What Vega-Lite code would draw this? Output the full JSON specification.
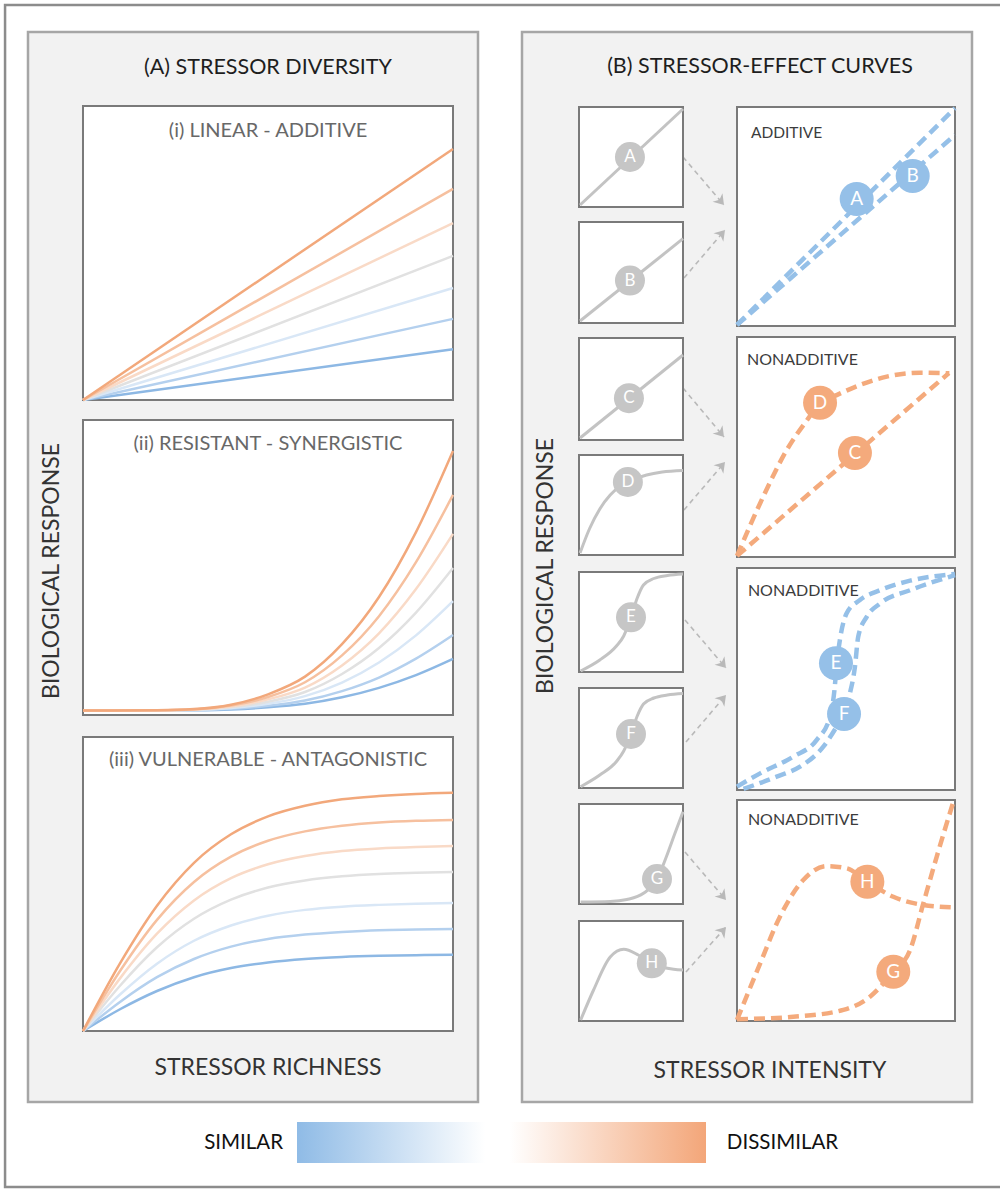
{
"$schema": "https://vega.github.io/schema/vega-lite/v6.json",
"width": 1000,
"height": 1191,
"autosize": {"type": "none"},
"padding": 0,
"background": "white",
"config": {"view": {"stroke": null}, "axis": {"disable": true}, "font": "Lato", "text": {"font": "Lato"}},
"datasets": {
"diversity": [
{"panel":"i","level":1,"x":0,"y":0},{"panel":"i","level":1,"x":1,"y":0.173},
{"panel":"i","level":2,"x":0,"y":0},{"panel":"i","level":2,"x":1,"y":0.276},
{"panel":"i","level":3,"x":0,"y":0},{"panel":"i","level":3,"x":1,"y":0.381},
{"panel":"i","level":4,"x":0,"y":0},{"panel":"i","level":4,"x":1,"y":0.49},
{"panel":"i","level":5,"x":0,"y":0},{"panel":"i","level":5,"x":1,"y":0.602},
{"panel":"i","level":6,"x":0,"y":0},{"panel":"i","level":6,"x":1,"y":0.718},
{"panel":"i","level":7,"x":0,"y":0},{"panel":"i","level":7,"x":1,"y":0.854},
{"panel":"ii","level":1,"x":0,"y":0.015},{"panel":"ii","level":1,"x":0.2,"y":0.015},{"panel":"ii","level":1,"x":0.3,"y":0.016},{"panel":"ii","level":1,"x":0.4,"y":0.019},{"panel":"ii","level":1,"x":0.5,"y":0.026},{"panel":"ii","level":1,"x":0.6,"y":0.038},{"panel":"ii","level":1,"x":0.7,"y":0.06},{"panel":"ii","level":1,"x":0.8,"y":0.092},{"panel":"ii","level":1,"x":0.9,"y":0.135},{"panel":"ii","level":1,"x":1,"y":0.19},
{"panel":"ii","level":2,"x":0,"y":0.015},{"panel":"ii","level":2,"x":0.2,"y":0.015},{"panel":"ii","level":2,"x":0.3,"y":0.017},{"panel":"ii","level":2,"x":0.4,"y":0.021},{"panel":"ii","level":2,"x":0.5,"y":0.031},{"panel":"ii","level":2,"x":0.6,"y":0.049},{"panel":"ii","level":2,"x":0.7,"y":0.081},{"panel":"ii","level":2,"x":0.8,"y":0.127},{"panel":"ii","level":2,"x":0.9,"y":0.191},{"panel":"ii","level":2,"x":1,"y":0.271},
{"panel":"ii","level":3,"x":0,"y":0.015},{"panel":"ii","level":3,"x":0.2,"y":0.015},{"panel":"ii","level":3,"x":0.3,"y":0.017},{"panel":"ii","level":3,"x":0.4,"y":0.024},{"panel":"ii","level":3,"x":0.5,"y":0.038},{"panel":"ii","level":3,"x":0.6,"y":0.064},{"panel":"ii","level":3,"x":0.7,"y":0.11},{"panel":"ii","level":3,"x":0.8,"y":0.178},{"panel":"ii","level":3,"x":0.9,"y":0.27},{"panel":"ii","level":3,"x":1,"y":0.386},
{"panel":"ii","level":4,"x":0,"y":0.015},{"panel":"ii","level":4,"x":0.2,"y":0.016},{"panel":"ii","level":4,"x":0.3,"y":0.018},{"panel":"ii","level":4,"x":0.4,"y":0.026},{"panel":"ii","level":4,"x":0.5,"y":0.045},{"panel":"ii","level":4,"x":0.6,"y":0.078},{"panel":"ii","level":4,"x":0.7,"y":0.139},{"panel":"ii","level":4,"x":0.8,"y":0.227},{"panel":"ii","level":4,"x":0.9,"y":0.347},{"panel":"ii","level":4,"x":1,"y":0.498},
{"panel":"ii","level":5,"x":0,"y":0.015},{"panel":"ii","level":5,"x":0.2,"y":0.016},{"panel":"ii","level":5,"x":0.3,"y":0.019},{"panel":"ii","level":5,"x":0.4,"y":0.029},{"panel":"ii","level":5,"x":0.5,"y":0.053},{"panel":"ii","level":5,"x":0.6,"y":0.093},{"panel":"ii","level":5,"x":0.7,"y":0.168},{"panel":"ii","level":5,"x":0.8,"y":0.277},{"panel":"ii","level":5,"x":0.9,"y":0.427},{"panel":"ii","level":5,"x":1,"y":0.614},
{"panel":"ii","level":6,"x":0,"y":0.015},{"panel":"ii","level":6,"x":0.2,"y":0.016},{"panel":"ii","level":6,"x":0.3,"y":0.019},{"panel":"ii","level":6,"x":0.4,"y":0.032},{"panel":"ii","level":6,"x":0.5,"y":0.061},{"panel":"ii","level":6,"x":0.6,"y":0.111},{"panel":"ii","level":6,"x":0.7,"y":0.202},{"panel":"ii","level":6,"x":0.8,"y":0.335},{"panel":"ii","level":6,"x":0.9,"y":0.518},{"panel":"ii","level":6,"x":1,"y":0.746},
{"panel":"ii","level":7,"x":0,"y":0.015},{"panel":"ii","level":7,"x":0.2,"y":0.016},{"panel":"ii","level":7,"x":0.3,"y":0.02},{"panel":"ii","level":7,"x":0.4,"y":0.035},{"panel":"ii","level":7,"x":0.5,"y":0.07},{"panel":"ii","level":7,"x":0.6,"y":0.13},{"panel":"ii","level":7,"x":0.7,"y":0.24},{"panel":"ii","level":7,"x":0.8,"y":0.4},{"panel":"ii","level":7,"x":0.9,"y":0.62},{"panel":"ii","level":7,"x":1,"y":0.895},
{"panel":"iii","level":1,"x":0,"y":0},{"panel":"iii","level":1,"x":0.1,"y":0.074},{"panel":"iii","level":1,"x":0.2,"y":0.136},{"panel":"iii","level":1,"x":0.3,"y":0.183},{"panel":"iii","level":1,"x":0.4,"y":0.214},{"panel":"iii","level":1,"x":0.5,"y":0.233},{"panel":"iii","level":1,"x":0.6,"y":0.245},{"panel":"iii","level":1,"x":0.7,"y":0.252},{"panel":"iii","level":1,"x":0.8,"y":0.256},{"panel":"iii","level":1,"x":0.9,"y":0.258},{"panel":"iii","level":1,"x":1,"y":0.259},
{"panel":"iii","level":2,"x":0,"y":0},{"panel":"iii","level":2,"x":0.1,"y":0.099},{"panel":"iii","level":2,"x":0.2,"y":0.183},{"panel":"iii","level":2,"x":0.3,"y":0.245},{"panel":"iii","level":2,"x":0.4,"y":0.287},{"panel":"iii","level":2,"x":0.5,"y":0.313},{"panel":"iii","level":2,"x":0.6,"y":0.328},{"panel":"iii","level":2,"x":0.7,"y":0.337},{"panel":"iii","level":2,"x":0.8,"y":0.343},{"panel":"iii","level":2,"x":0.9,"y":0.345},{"panel":"iii","level":2,"x":1,"y":0.347},
{"panel":"iii","level":3,"x":0,"y":0},{"panel":"iii","level":3,"x":0.1,"y":0.124},{"panel":"iii","level":3,"x":0.2,"y":0.229},{"panel":"iii","level":3,"x":0.3,"y":0.307},{"panel":"iii","level":3,"x":0.4,"y":0.359},{"panel":"iii","level":3,"x":0.5,"y":0.392},{"panel":"iii","level":3,"x":0.6,"y":0.412},{"panel":"iii","level":3,"x":0.7,"y":0.423},{"panel":"iii","level":3,"x":0.8,"y":0.429},{"panel":"iii","level":3,"x":0.9,"y":0.433},{"panel":"iii","level":3,"x":1,"y":0.435},
{"panel":"iii","level":4,"x":0,"y":0},{"panel":"iii","level":4,"x":0.1,"y":0.154},{"panel":"iii","level":4,"x":0.2,"y":0.285},{"panel":"iii","level":4,"x":0.3,"y":0.382},{"panel":"iii","level":4,"x":0.4,"y":0.447},{"panel":"iii","level":4,"x":0.5,"y":0.488},{"panel":"iii","level":4,"x":0.6,"y":0.512},{"panel":"iii","level":4,"x":0.7,"y":0.526},{"panel":"iii","level":4,"x":0.8,"y":0.534},{"panel":"iii","level":4,"x":0.9,"y":0.538},{"panel":"iii","level":4,"x":1,"y":0.541},
{"panel":"iii","level":5,"x":0,"y":0},{"panel":"iii","level":5,"x":0.1,"y":0.179},{"panel":"iii","level":5,"x":0.2,"y":0.331},{"panel":"iii","level":5,"x":0.3,"y":0.444},{"panel":"iii","level":5,"x":0.4,"y":0.52},{"panel":"iii","level":5,"x":0.5,"y":0.567},{"panel":"iii","level":5,"x":0.6,"y":0.595},{"panel":"iii","level":5,"x":0.7,"y":0.612},{"panel":"iii","level":5,"x":0.8,"y":0.621},{"panel":"iii","level":5,"x":0.9,"y":0.626},{"panel":"iii","level":5,"x":1,"y":0.629},
{"panel":"iii","level":6,"x":0,"y":0},{"panel":"iii","level":6,"x":0.1,"y":0.204},{"panel":"iii","level":6,"x":0.2,"y":0.378},{"panel":"iii","level":6,"x":0.3,"y":0.507},{"panel":"iii","level":6,"x":0.4,"y":0.593},{"panel":"iii","level":6,"x":0.5,"y":0.647},{"panel":"iii","level":6,"x":0.6,"y":0.679},{"panel":"iii","level":6,"x":0.7,"y":0.698},{"panel":"iii","level":6,"x":0.8,"y":0.709},{"panel":"iii","level":6,"x":0.9,"y":0.715},{"panel":"iii","level":6,"x":1,"y":0.718},
{"panel":"iii","level":7,"x":0,"y":0},{"panel":"iii","level":7,"x":0.1,"y":0.23},{"panel":"iii","level":7,"x":0.2,"y":0.426},{"panel":"iii","level":7,"x":0.3,"y":0.572},{"panel":"iii","level":7,"x":0.4,"y":0.669},{"panel":"iii","level":7,"x":0.5,"y":0.73},{"panel":"iii","level":7,"x":0.6,"y":0.766},{"panel":"iii","level":7,"x":0.7,"y":0.788},{"panel":"iii","level":7,"x":0.8,"y":0.799},{"panel":"iii","level":7,"x":0.9,"y":0.806},{"panel":"iii","level":7,"x":1,"y":0.81}
],
"smallCurves": [
{"stressor":"A","x":0.01,"y":0.02},{"stressor":"A","x":1,"y":0.98},
{"stressor":"B","x":0.01,"y":0.02},{"stressor":"B","x":1,"y":0.835},
{"stressor":"C","x":0.01,"y":0.02},{"stressor":"C","x":1,"y":0.833},
{"stressor":"D","x":0.01,"y":0.02},{"stressor":"D","x":0.1,"y":0.26},{"stressor":"D","x":0.2,"y":0.46},{"stressor":"D","x":0.3,"y":0.6},{"stressor":"D","x":0.4,"y":0.69},{"stressor":"D","x":0.5,"y":0.745},{"stressor":"D","x":0.65,"y":0.8},{"stressor":"D","x":0.8,"y":0.83},{"stressor":"D","x":1,"y":0.845},
{"stressor":"E","x":0.016,"y":0.01},{"stressor":"E","x":0.2,"y":0.12},{"stressor":"E","x":0.36,"y":0.26},{"stressor":"E","x":0.43,"y":0.36},{"stressor":"E","x":0.5,"y":0.547},{"stressor":"E","x":0.56,"y":0.74},{"stressor":"E","x":0.62,"y":0.87},{"stressor":"E","x":0.72,"y":0.935},{"stressor":"E","x":0.85,"y":0.965},{"stressor":"E","x":1,"y":0.98},
{"stressor":"F","x":0.016,"y":0.013},{"stressor":"F","x":0.2,"y":0.13},{"stressor":"F","x":0.36,"y":0.265},{"stressor":"F","x":0.43,"y":0.37},{"stressor":"F","x":0.5,"y":0.54},{"stressor":"F","x":0.56,"y":0.72},{"stressor":"F","x":0.62,"y":0.84},{"stressor":"F","x":0.72,"y":0.9},{"stressor":"F","x":0.85,"y":0.93},{"stressor":"F","x":1,"y":0.945},
{"stressor":"G","x":0.016,"y":0.02},{"stressor":"G","x":0.3,"y":0.025},{"stressor":"G","x":0.46,"y":0.045},{"stressor":"G","x":0.62,"y":0.107},{"stressor":"G","x":0.75,"y":0.247},{"stressor":"G","x":0.84,"y":0.473},{"stressor":"G","x":0.92,"y":0.7},{"stressor":"G","x":1,"y":0.923},
{"stressor":"H","x":0.016,"y":0.01},{"stressor":"H","x":0.14,"y":0.31},{"stressor":"H","x":0.3,"y":0.64},{"stressor":"H","x":0.43,"y":0.717},{"stressor":"H","x":0.57,"y":0.66},{"stressor":"H","x":0.7,"y":0.577},{"stressor":"H","x":0.91,"y":0.517},{"stressor":"H","x":1,"y":0.51}
],
"bigCurves": [
{"stressor":"A","x":0,"y":0.005},{"stressor":"A","x":1,"y":0.995},
{"stressor":"B","x":0,"y":0.005},{"stressor":"B","x":1,"y":0.872},
{"stressor":"C","x":0,"y":0.005},{"stressor":"C","x":0.972,"y":0.836},
{"stressor":"D","x":0,"y":0.005},{"stressor":"D","x":0.12,"y":0.274},{"stressor":"D","x":0.228,"y":0.486},{"stressor":"D","x":0.327,"y":0.63},{"stressor":"D","x":0.381,"y":0.701},{"stressor":"D","x":0.457,"y":0.736},{"stressor":"D","x":0.564,"y":0.782},{"stressor":"D","x":0.687,"y":0.82},{"stressor":"D","x":0.839,"y":0.838},{"stressor":"D","x":0.974,"y":0.835},
{"stressor":"E","x":0,"y":0.015},{"stressor":"E","x":0.106,"y":0.075},{"stressor":"E","x":0.258,"y":0.15},{"stressor":"E","x":0.365,"y":0.225},{"stressor":"E","x":0.427,"y":0.33},{"stressor":"E","x":0.447,"y":0.45},{"stressor":"E","x":0.458,"y":0.571},{"stressor":"E","x":0.472,"y":0.676},{"stressor":"E","x":0.503,"y":0.796},{"stressor":"E","x":0.564,"y":0.856},{"stressor":"E","x":0.656,"y":0.9},{"stressor":"E","x":0.794,"y":0.943},{"stressor":"E","x":1,"y":0.973},
{"stressor":"F","x":0.03,"y":0.005},{"stressor":"F","x":0.182,"y":0.06},{"stressor":"F","x":0.289,"y":0.105},{"stressor":"F","x":0.396,"y":0.195},{"stressor":"F","x":0.457,"y":0.285},{"stressor":"F","x":0.491,"y":0.342},{"stressor":"F","x":0.518,"y":0.435},{"stressor":"F","x":0.541,"y":0.555},{"stressor":"F","x":0.556,"y":0.69},{"stressor":"F","x":0.595,"y":0.78},{"stressor":"F","x":0.656,"y":0.84},{"stressor":"F","x":0.794,"y":0.9},{"stressor":"F","x":1,"y":0.968},
{"stressor":"G","x":0,"y":0.008},{"stressor":"G","x":0.258,"y":0.019},{"stressor":"G","x":0.488,"y":0.05},{"stressor":"G","x":0.61,"y":0.11},{"stressor":"G","x":0.717,"y":0.223},{"stressor":"G","x":0.794,"y":0.321},{"stressor":"G","x":0.855,"y":0.533},{"stressor":"G","x":0.916,"y":0.743},{"stressor":"G","x":0.995,"y":1},
{"stressor":"H","x":0,"y":0.005},{"stressor":"H","x":0.106,"y":0.26},{"stressor":"H","x":0.197,"y":0.472},{"stressor":"H","x":0.304,"y":0.638},{"stressor":"H","x":0.411,"y":0.701},{"stressor":"H","x":0.503,"y":0.691},{"stressor":"H","x":0.598,"y":0.63},{"stressor":"H","x":0.717,"y":0.562},{"stressor":"H","x":0.855,"y":0.525},{"stressor":"H","x":1,"y":0.514}
],
"markers": [
{"stressor":"A","scope":"small","x":0.49,"y":0.5},
{"stressor":"B","scope":"small","x":0.49,"y":0.42},
{"stressor":"C","scope":"small","x":0.48,"y":0.41},
{"stressor":"D","scope":"small","x":0.47,"y":0.73},
{"stressor":"E","scope":"small","x":0.5,"y":0.547},
{"stressor":"F","scope":"small","x":0.5,"y":0.54},
{"stressor":"G","scope":"small","x":0.75,"y":0.25},
{"stressor":"H","scope":"small","x":0.7,"y":0.577},
{"stressor":"A","scope":"big","x":0.549,"y":0.58},
{"stressor":"B","scope":"big","x":0.806,"y":0.685},
{"stressor":"C","scope":"big","x":0.541,"y":0.473},
{"stressor":"D","scope":"big","x":0.381,"y":0.701},
{"stressor":"E","scope":"big","x":0.454,"y":0.571},
{"stressor":"F","scope":"big","x":0.491,"y":0.342},
{"stressor":"G","scope":"big","x":0.717,"y":0.223},
{"stressor":"H","scope":"big","x":0.598,"y":0.63}
],
"arrows": [
{"stressor":"A","direction":"down","x":0.3578,"y":0.8832,"x2":0.4489,"y2":0.8383},
{"stressor":"B","direction":"up","x":0.36,"y":0.7701,"x2":0.4511,"y2":0.815},
{"stressor":"C","direction":"down","x":0.3578,"y":0.6673,"x2":0.4489,"y2":0.6215},
{"stressor":"D","direction":"up","x":0.36,"y":0.5533,"x2":0.4511,"y2":0.5981},
{"stressor":"E","direction":"down","x":0.3622,"y":0.4505,"x2":0.4533,"y2":0.4056},
{"stressor":"F","direction":"up","x":0.3644,"y":0.3364,"x2":0.4533,"y2":0.3804},
{"stressor":"G","direction":"down","x":0.3622,"y":0.2336,"x2":0.4533,"y2":0.1888},
{"stressor":"H","direction":"up","x":0.3644,"y":0.1215,"x2":0.4533,"y2":0.1636}
]
},
"resolve": {"scale": {"x": "independent", "y": "independent"}},
"layer": [
{"data":{"values":[{}]},"mark":{"type":"rect","fill":"white","stroke":"#8c8c8c","strokeWidth":2.5},"encoding":{"x":{"datum":0,"type":"quantitative","scale":{"domain":[-0.005051,0.994949],"nice":false,"zero":false},"axis":null},"x2":{"datum":1},"y":{"datum":0,"type":"quantitative","scale":{"domain":[-0.003384,1.00423],"nice":false,"zero":false},"axis":null},"y2":{"datum":1}}},
{"layer":[
 {"data":{"values":[{}]},"mark":{"type":"rect","fill":"#f2f2f2","stroke":"#a6a6a6","strokeWidth":2.5},"encoding":{"x":{"datum":0,"type":"quantitative","scale":{"domain":[-0.062222,2.16],"nice":false,"zero":false},"axis":null},"x2":{"datum":1},"y":{"datum":0,"type":"quantitative","scale":{"domain":[-0.083178,1.029907],"nice":false,"zero":false},"axis":null},"y2":{"datum":1}}},
 {"data":{"values":[{}]},"mark":{"type":"text","text":"(A) STRESSOR DIVERSITY","fontSize":21.5,"color":"#1e1e1e","align":"center","baseline":"middle"},"encoding":{"x":{"datum":0.5333,"type":"quantitative"},"y":{"datum":0.9664,"type":"quantitative"}}},
 {"data":{"values":[{}]},"mark":{"type":"text","text":"BIOLOGICAL RESPONSE","fontSize":23,"color":"#333333","angle":270,"align":"center","baseline":"middle"},"encoding":{"x":{"datum":0.0533,"type":"quantitative"},"y":{"datum":0.4963,"type":"quantitative"}}},
 {"data":{"values":[{}]},"mark":{"type":"text","text":"STRESSOR RICHNESS","fontSize":23,"color":"#333333","align":"center","baseline":"middle"},"encoding":{"x":{"datum":0.5333,"type":"quantitative"},"y":{"datum":0.0318,"type":"quantitative"}}}
]},
{"layer":[
 {"data":{"values":[{}]},"mark":{"type":"rect","fill":"#f2f2f2","stroke":"#a6a6a6","strokeWidth":2.5},"encoding":{"x":{"datum":0,"type":"quantitative","scale":{"domain":[-1.16,1.062222],"nice":false,"zero":false},"axis":null},"x2":{"datum":1},"y":{"datum":0,"type":"quantitative","scale":{"domain":[-0.083178,1.029907],"nice":false,"zero":false},"axis":null},"y2":{"datum":1}}},
 {"data":{"values":[{}]},"mark":{"type":"text","text":"(B) STRESSOR-EFFECT CURVES","fontSize":21.5,"color":"#1e1e1e","align":"center","baseline":"middle"},"encoding":{"x":{"datum":0.5289,"type":"quantitative"},"y":{"datum":0.9673,"type":"quantitative"}}},
 {"data":{"values":[{}]},"mark":{"type":"text","text":"BIOLOGICAL RESPONSE","fontSize":23,"color":"#333333","angle":270,"align":"center","baseline":"middle"},"encoding":{"x":{"datum":0.0533,"type":"quantitative"},"y":{"datum":0.501,"type":"quantitative"}}},
 {"data":{"values":[{}]},"mark":{"type":"text","text":"STRESSOR INTENSITY","fontSize":23,"color":"#333333","align":"center","baseline":"middle"},"encoding":{"x":{"datum":0.551,"type":"quantitative"},"y":{"datum":0.029,"type":"quantitative"}}},
 {"data":{"name":"arrows"},"mark":{"type":"rule","color":"#b9b9b9","strokeWidth":1.6,"strokeDash":[5,4]},"encoding":{"x":{"field":"x","type":"quantitative"},"y":{"field":"y","type":"quantitative"},"x2":{"field":"x2"},"y2":{"field":"y2"}}},
 {"data":{"name":"arrows"},"transform":[{"filter":"datum.direction == 'down'"}],"mark":{"type":"point","shape":"M -1 -0.65 L 0 0 L -1 0.65 L -0.7 0 Z","filled":true,"size":400,"angle":49.5,"color":"#b9b9b9","opacity":1},"encoding":{"x":{"field":"x2","type":"quantitative"},"y":{"field":"y2","type":"quantitative"}}},
 {"data":{"name":"arrows"},"transform":[{"filter":"datum.direction == 'up'"}],"mark":{"type":"point","shape":"M -1 -0.65 L 0 0 L -1 0.65 L -0.7 0 Z","filled":true,"size":400,"angle":-49,"color":"#b9b9b9","opacity":1},"encoding":{"x":{"field":"x2","type":"quantitative"},"y":{"field":"y2","type":"quantitative"}}}
]},
{"layer":[
 {"data":{"values":[{}]},"mark":{"type":"rect","fill":"white","stroke":"#7a7a7a","strokeWidth":2},"encoding":{"x":{"datum":0,"type":"quantitative","scale":{"domain":[-0.224324,2.478378],"nice":false,"zero":false},"axis":null},"x2":{"datum":1},"y":{"datum":0,"type":"quantitative","scale":{"domain":[-2.690476,1.360544],"nice":false,"zero":false},"axis":null},"y2":{"datum":1}}},
 {"data":{"name":"diversity"},"transform":[{"filter":"datum.panel == 'i'"}],"mark":{"type":"line","strokeWidth":2.5,"interpolate":"monotone"},"encoding":{"x":{"field":"x","type":"quantitative"},"y":{"field":"y","type":"quantitative"},"color":{"field":"level","type":"ordinal","scale":{"domain":[1,2,3,4,5,6,7],"range":["#8db8e4","#b4d0ee","#d9e7f6","#e1e1e1","#f9dac7","#f6c09f","#f2a87b"]},"legend":null}}},
 {"data":{"values":[{}]},"mark":{"type":"text","text":"(i) LINEAR - ADDITIVE","fontSize":20,"color":"#686868","align":"center","baseline":"middle"},"encoding":{"x":{"datum":0.5,"type":"quantitative"},"y":{"datum":0.915,"type":"quantitative"}}}
]},
{"layer":[
 {"data":{"values":[{}]},"mark":{"type":"rect","fill":"white","stroke":"#7a7a7a","strokeWidth":2},"encoding":{"x":{"datum":0,"type":"quantitative","scale":{"domain":[-0.224324,2.478378],"nice":false,"zero":false},"axis":null},"x2":{"datum":1},"y":{"datum":0,"type":"quantitative","scale":{"domain":[-1.613559,2.423729],"nice":false,"zero":false},"axis":null},"y2":{"datum":1}}},
 {"data":{"name":"diversity"},"transform":[{"filter":"datum.panel == 'ii'"}],"mark":{"type":"line","strokeWidth":2.5,"interpolate":"monotone"},"encoding":{"x":{"field":"x","type":"quantitative"},"y":{"field":"y","type":"quantitative"},"color":{"field":"level","type":"ordinal","scale":{"domain":[1,2,3,4,5,6,7],"range":["#8db8e4","#b4d0ee","#d9e7f6","#e1e1e1","#f9dac7","#f6c09f","#f2a87b"]},"legend":null}}},
 {"data":{"values":[{}]},"mark":{"type":"text","text":"(ii) RESISTANT - SYNERGISTIC","fontSize":20,"color":"#686868","align":"center","baseline":"middle"},"encoding":{"x":{"datum":0.5,"type":"quantitative"},"y":{"datum":0.919,"type":"quantitative"}}}
]},
{"layer":[
 {"data":{"values":[{}]},"mark":{"type":"rect","fill":"white","stroke":"#7a7a7a","strokeWidth":2},"encoding":{"x":{"datum":0,"type":"quantitative","scale":{"domain":[-0.224324,2.478378],"nice":false,"zero":false},"axis":null},"x2":{"datum":1},"y":{"datum":0,"type":"quantitative","scale":{"domain":[-0.544218,3.506803],"nice":false,"zero":false},"axis":null},"y2":{"datum":1}}},
 {"data":{"name":"diversity"},"transform":[{"filter":"datum.panel == 'iii'"}],"mark":{"type":"line","strokeWidth":2.5,"interpolate":"monotone"},"encoding":{"x":{"field":"x","type":"quantitative"},"y":{"field":"y","type":"quantitative"},"color":{"field":"level","type":"ordinal","scale":{"domain":[1,2,3,4,5,6,7],"range":["#8db8e4","#b4d0ee","#d9e7f6","#e1e1e1","#f9dac7","#f6c09f","#f2a87b"]},"legend":null}}},
 {"data":{"values":[{}]},"mark":{"type":"text","text":"(iii) VULNERABLE - ANTAGONISTIC","fontSize":20,"color":"#686868","align":"center","baseline":"middle"},"encoding":{"x":{"datum":0.5,"type":"quantitative"},"y":{"datum":0.922,"type":"quantitative"}}}
]},
{"layer":[
 {"data":{"values":[{}]},"mark":{"type":"rect","fill":"white","stroke":"#7a7a7a","strokeWidth":2},"encoding":{"x":{"datum":0,"type":"quantitative","scale":{"domain":[-5.567308,4.048077],"nice":false,"zero":false},"axis":null},"x2":{"datum":1},"y":{"datum":0,"type":"quantitative","scale":{"domain":[-9.84,2.07],"nice":false,"zero":false},"axis":null},"y2":{"datum":1}}},
 {"data":{"name":"smallCurves"},"transform":[{"filter":"datum.stressor == 'A'"}],"mark":{"type":"line","color":"#c3c3c3","strokeWidth":3,"interpolate":"monotone"},"encoding":{"x":{"field":"x","type":"quantitative"},"y":{"field":"y","type":"quantitative"}}},
 {"data":{"name":"markers"},"transform":[{"filter":"datum.scope == 'small' && datum.stressor == 'A'"}],"encoding":{"x":{"field":"x","type":"quantitative"},"y":{"field":"y","type":"quantitative"}},"layer":[
  {"mark":{"type":"point","shape":"circle","filled":true,"size":900,"color":"#c6c6c6","opacity":1}},
  {"mark":{"type":"text","color":"white","fontSize":17,"align":"center","baseline":"middle"},"encoding":{"text":{"field":"stressor","type":"nominal"}}}]}
]},
{"layer":[
 {"data":{"values":[{}]},"mark":{"type":"rect","fill":"white","stroke":"#7a7a7a","strokeWidth":2},"encoding":{"x":{"datum":0,"type":"quantitative","scale":{"domain":[-5.567308,4.048077],"nice":false,"zero":false},"axis":null},"x2":{"datum":1},"y":{"datum":0,"type":"quantitative","scale":{"domain":[-8.594059,3.19802],"nice":false,"zero":false},"axis":null},"y2":{"datum":1}}},
 {"data":{"name":"smallCurves"},"transform":[{"filter":"datum.stressor == 'B'"}],"mark":{"type":"line","color":"#c3c3c3","strokeWidth":3,"interpolate":"monotone"},"encoding":{"x":{"field":"x","type":"quantitative"},"y":{"field":"y","type":"quantitative"}}},
 {"data":{"name":"markers"},"transform":[{"filter":"datum.scope == 'small' && datum.stressor == 'B'"}],"encoding":{"x":{"field":"x","type":"quantitative"},"y":{"field":"y","type":"quantitative"}},"layer":[
  {"mark":{"type":"point","shape":"circle","filled":true,"size":900,"color":"#c6c6c6","opacity":1}},
  {"mark":{"type":"text","color":"white","fontSize":17,"align":"center","baseline":"middle"},"encoding":{"text":{"field":"stressor","type":"nominal"}}}]}
]},
{"layer":[
 {"data":{"values":[{}]},"mark":{"type":"rect","fill":"white","stroke":"#7a7a7a","strokeWidth":2},"encoding":{"x":{"datum":0,"type":"quantitative","scale":{"domain":[-5.567308,4.048077],"nice":false,"zero":false},"axis":null},"x2":{"datum":1},"y":{"datum":0,"type":"quantitative","scale":{"domain":[-7.362745,4.313725],"nice":false,"zero":false},"axis":null},"y2":{"datum":1}}},
 {"data":{"name":"smallCurves"},"transform":[{"filter":"datum.stressor == 'C'"}],"mark":{"type":"line","color":"#c3c3c3","strokeWidth":3,"interpolate":"monotone"},"encoding":{"x":{"field":"x","type":"quantitative"},"y":{"field":"y","type":"quantitative"}}},
 {"data":{"name":"markers"},"transform":[{"filter":"datum.scope == 'small' && datum.stressor == 'C'"}],"encoding":{"x":{"field":"x","type":"quantitative"},"y":{"field":"y","type":"quantitative"}},"layer":[
  {"mark":{"type":"point","shape":"circle","filled":true,"size":900,"color":"#c6c6c6","opacity":1}},
  {"mark":{"type":"text","color":"white","fontSize":17,"align":"center","baseline":"middle"},"encoding":{"text":{"field":"stressor","type":"nominal"}}}]}
]},
{"layer":[
 {"data":{"values":[{}]},"mark":{"type":"rect","fill":"white","stroke":"#7a7a7a","strokeWidth":2},"encoding":{"x":{"datum":0,"type":"quantitative","scale":{"domain":[-5.567308,4.048077],"nice":false,"zero":false},"axis":null},"x2":{"datum":1},"y":{"datum":0,"type":"quantitative","scale":{"domain":[-6.36,5.55],"nice":false,"zero":false},"axis":null},"y2":{"datum":1}}},
 {"data":{"name":"smallCurves"},"transform":[{"filter":"datum.stressor == 'D'"}],"mark":{"type":"line","color":"#c3c3c3","strokeWidth":3,"interpolate":"monotone"},"encoding":{"x":{"field":"x","type":"quantitative"},"y":{"field":"y","type":"quantitative"}}},
 {"data":{"name":"markers"},"transform":[{"filter":"datum.scope == 'small' && datum.stressor == 'D'"}],"encoding":{"x":{"field":"x","type":"quantitative"},"y":{"field":"y","type":"quantitative"}},"layer":[
  {"mark":{"type":"point","shape":"circle","filled":true,"size":900,"color":"#c6c6c6","opacity":1}},
  {"mark":{"type":"text","color":"white","fontSize":17,"align":"center","baseline":"middle"},"encoding":{"text":{"field":"stressor","type":"nominal"}}}]}
]},
{"layer":[
 {"data":{"values":[{}]},"mark":{"type":"rect","fill":"white","stroke":"#7a7a7a","strokeWidth":2},"encoding":{"x":{"datum":0,"type":"quantitative","scale":{"domain":[-5.567308,4.048077],"nice":false,"zero":false},"axis":null},"x2":{"datum":1},"y":{"datum":0,"type":"quantitative","scale":{"domain":[-5.19,6.72],"nice":false,"zero":false},"axis":null},"y2":{"datum":1}}},
 {"data":{"name":"smallCurves"},"transform":[{"filter":"datum.stressor == 'E'"}],"mark":{"type":"line","color":"#c3c3c3","strokeWidth":3,"interpolate":"monotone"},"encoding":{"x":{"field":"x","type":"quantitative"},"y":{"field":"y","type":"quantitative"}}},
 {"data":{"name":"markers"},"transform":[{"filter":"datum.scope == 'small' && datum.stressor == 'E'"}],"encoding":{"x":{"field":"x","type":"quantitative"},"y":{"field":"y","type":"quantitative"}},"layer":[
  {"mark":{"type":"point","shape":"circle","filled":true,"size":900,"color":"#c6c6c6","opacity":1}},
  {"mark":{"type":"text","color":"white","fontSize":17,"align":"center","baseline":"middle"},"encoding":{"text":{"field":"stressor","type":"nominal"}}}]}
]},
{"layer":[
 {"data":{"values":[{}]},"mark":{"type":"rect","fill":"white","stroke":"#7a7a7a","strokeWidth":2},"encoding":{"x":{"datum":0,"type":"quantitative","scale":{"domain":[-5.567308,4.048077],"nice":false,"zero":false},"axis":null},"x2":{"datum":1},"y":{"datum":0,"type":"quantitative","scale":{"domain":[-4.03,7.88],"nice":false,"zero":false},"axis":null},"y2":{"datum":1}}},
 {"data":{"name":"smallCurves"},"transform":[{"filter":"datum.stressor == 'F'"}],"mark":{"type":"line","color":"#c3c3c3","strokeWidth":3,"interpolate":"monotone"},"encoding":{"x":{"field":"x","type":"quantitative"},"y":{"field":"y","type":"quantitative"}}},
 {"data":{"name":"markers"},"transform":[{"filter":"datum.scope == 'small' && datum.stressor == 'F'"}],"encoding":{"x":{"field":"x","type":"quantitative"},"y":{"field":"y","type":"quantitative"}},"layer":[
  {"mark":{"type":"point","shape":"circle","filled":true,"size":900,"color":"#c6c6c6","opacity":1}},
  {"mark":{"type":"text","color":"white","fontSize":17,"align":"center","baseline":"middle"},"encoding":{"text":{"field":"stressor","type":"nominal"}}}]}
]},
{"layer":[
 {"data":{"values":[{}]},"mark":{"type":"rect","fill":"white","stroke":"#7a7a7a","strokeWidth":2},"encoding":{"x":{"datum":0,"type":"quantitative","scale":{"domain":[-5.567308,4.048077],"nice":false,"zero":false},"axis":null},"x2":{"datum":1},"y":{"datum":0,"type":"quantitative","scale":{"domain":[-2.87,9.04],"nice":false,"zero":false},"axis":null},"y2":{"datum":1}}},
 {"data":{"name":"smallCurves"},"transform":[{"filter":"datum.stressor == 'G'"}],"mark":{"type":"line","color":"#c3c3c3","strokeWidth":3,"interpolate":"monotone"},"encoding":{"x":{"field":"x","type":"quantitative"},"y":{"field":"y","type":"quantitative"}}},
 {"data":{"name":"markers"},"transform":[{"filter":"datum.scope == 'small' && datum.stressor == 'G'"}],"encoding":{"x":{"field":"x","type":"quantitative"},"y":{"field":"y","type":"quantitative"}},"layer":[
  {"mark":{"type":"point","shape":"circle","filled":true,"size":900,"color":"#c6c6c6","opacity":1}},
  {"mark":{"type":"text","color":"white","fontSize":17,"align":"center","baseline":"middle"},"encoding":{"text":{"field":"stressor","type":"nominal"}}}]}
]},
{"layer":[
 {"data":{"values":[{}]},"mark":{"type":"rect","fill":"white","stroke":"#7a7a7a","strokeWidth":2},"encoding":{"x":{"datum":0,"type":"quantitative","scale":{"domain":[-5.567308,4.048077],"nice":false,"zero":false},"axis":null},"x2":{"datum":1},"y":{"datum":0,"type":"quantitative","scale":{"domain":[-1.7,10.21],"nice":false,"zero":false},"axis":null},"y2":{"datum":1}}},
 {"data":{"name":"smallCurves"},"transform":[{"filter":"datum.stressor == 'H'"}],"mark":{"type":"line","color":"#c3c3c3","strokeWidth":3,"interpolate":"monotone"},"encoding":{"x":{"field":"x","type":"quantitative"},"y":{"field":"y","type":"quantitative"}}},
 {"data":{"name":"markers"},"transform":[{"filter":"datum.scope == 'small' && datum.stressor == 'H'"}],"encoding":{"x":{"field":"x","type":"quantitative"},"y":{"field":"y","type":"quantitative"}},"layer":[
  {"mark":{"type":"point","shape":"circle","filled":true,"size":900,"color":"#c6c6c6","opacity":1}},
  {"mark":{"type":"text","color":"white","fontSize":17,"align":"center","baseline":"middle"},"encoding":{"text":{"field":"stressor","type":"nominal"}}}]}
]},
{"layer":[
 {"data":{"values":[{}]},"mark":{"type":"rect","fill":"white","stroke":"#7a7a7a","strokeWidth":2},"encoding":{"x":{"datum":0,"type":"quantitative","scale":{"domain":[-3.380734,1.206422],"nice":false,"zero":false},"axis":null},"x2":{"datum":1},"y":{"datum":0,"type":"quantitative","scale":{"domain":[-3.949772,1.488584],"nice":false,"zero":false},"axis":null},"y2":{"datum":1}}},
 {"data":{"values":[{}]},"mark":{"type":"text","text":"ADDITIVE","fontSize":15.5,"color":"#3c3c3c","align":"left","baseline":"middle"},"encoding":{"x":{"datum":0.064,"type":"quantitative"},"y":{"datum":0.881,"type":"quantitative"}}},
 {"data":{"name":"bigCurves"},"transform":[{"filter":"datum.stressor == 'A' || datum.stressor == 'B'"}],"mark":{"type":"line","color":"#95c0e8","strokeWidth":4.5,"strokeDash":[11,6],"interpolate":"monotone"},"encoding":{"x":{"field":"x","type":"quantitative"},"y":{"field":"y","type":"quantitative"},"detail":{"field":"stressor","type":"nominal"}}},
 {"data":{"name":"markers"},"transform":[{"filter":"datum.scope == 'big' && (datum.stressor == 'A' || datum.stressor == 'B')"}],"encoding":{"x":{"field":"x","type":"quantitative"},"y":{"field":"y","type":"quantitative"}},"layer":[
  {"mark":{"type":"point","shape":"circle","filled":true,"size":1156,"color":"#95c0e8","opacity":1}},
  {"mark":{"type":"text","color":"white","fontSize":19,"align":"center","baseline":"middle"},"encoding":{"text":{"field":"stressor","type":"nominal"}}}]}
]},
{"layer":[
 {"data":{"values":[{}]},"mark":{"type":"rect","fill":"white","stroke":"#7a7a7a","strokeWidth":2},"encoding":{"x":{"datum":0,"type":"quantitative","scale":{"domain":[-3.380734,1.206422],"nice":false,"zero":false},"axis":null},"x2":{"datum":1},"y":{"datum":0,"type":"quantitative","scale":{"domain":[-2.881818,2.531818],"nice":false,"zero":false},"axis":null},"y2":{"datum":1}}},
 {"data":{"values":[{}]},"mark":{"type":"text","text":"NONADDITIVE","fontSize":16,"color":"#3c3c3c","align":"left","baseline":"middle"},"encoding":{"x":{"datum":0.046,"type":"quantitative"},"y":{"datum":0.895,"type":"quantitative"}}},
 {"data":{"name":"bigCurves"},"transform":[{"filter":"datum.stressor == 'C' || datum.stressor == 'D'"}],"mark":{"type":"line","color":"#f4aa7c","strokeWidth":4.5,"strokeDash":[11,6],"interpolate":"monotone"},"encoding":{"x":{"field":"x","type":"quantitative"},"y":{"field":"y","type":"quantitative"},"detail":{"field":"stressor","type":"nominal"}}},
 {"data":{"name":"markers"},"transform":[{"filter":"datum.scope == 'big' && (datum.stressor == 'C' || datum.stressor == 'D')"}],"encoding":{"x":{"field":"x","type":"quantitative"},"y":{"field":"y","type":"quantitative"}},"layer":[
  {"mark":{"type":"point","shape":"circle","filled":true,"size":1156,"color":"#f4aa7c","opacity":1}},
  {"mark":{"type":"text","color":"white","fontSize":19,"align":"center","baseline":"middle"},"encoding":{"text":{"field":"stressor","type":"nominal"}}}]}
]},
{"layer":[
 {"data":{"values":[{}]},"mark":{"type":"rect","fill":"white","stroke":"#7a7a7a","strokeWidth":2},"encoding":{"x":{"datum":0,"type":"quantitative","scale":{"domain":[-3.380734,1.206422],"nice":false,"zero":false},"axis":null},"x2":{"datum":1},"y":{"datum":0,"type":"quantitative","scale":{"domain":[-1.806306,3.558559],"nice":false,"zero":false},"axis":null},"y2":{"datum":1}}},
 {"data":{"values":[{}]},"mark":{"type":"text","text":"NONADDITIVE","fontSize":16,"color":"#3c3c3c","align":"left","baseline":"middle"},"encoding":{"x":{"datum":0.05,"type":"quantitative"},"y":{"datum":0.896,"type":"quantitative"}}},
 {"data":{"name":"bigCurves"},"transform":[{"filter":"datum.stressor == 'E' || datum.stressor == 'F'"}],"mark":{"type":"line","color":"#95c0e8","strokeWidth":4.5,"strokeDash":[11,6],"interpolate":"monotone"},"encoding":{"x":{"field":"x","type":"quantitative"},"y":{"field":"y","type":"quantitative"},"detail":{"field":"stressor","type":"nominal"}}},
 {"data":{"name":"markers"},"transform":[{"filter":"datum.scope == 'big' && (datum.stressor == 'E' || datum.stressor == 'F')"}],"encoding":{"x":{"field":"x","type":"quantitative"},"y":{"field":"y","type":"quantitative"}},"layer":[
  {"mark":{"type":"point","shape":"circle","filled":true,"size":1156,"color":"#95c0e8","opacity":1}},
  {"mark":{"type":"text","color":"white","fontSize":19,"align":"center","baseline":"middle"},"encoding":{"text":{"field":"stressor","type":"nominal"}}}]}
]},
{"layer":[
 {"data":{"values":[{}]},"mark":{"type":"rect","fill":"white","stroke":"#7a7a7a","strokeWidth":2},"encoding":{"x":{"datum":0,"type":"quantitative","scale":{"domain":[-3.380734,1.206422],"nice":false,"zero":false},"axis":null},"x2":{"datum":1},"y":{"datum":0,"type":"quantitative","scale":{"domain":[-0.769231,4.61991],"nice":false,"zero":false},"axis":null},"y2":{"datum":1}}},
 {"data":{"values":[{}]},"mark":{"type":"text","text":"NONADDITIVE","fontSize":16,"color":"#3c3c3c","align":"left","baseline":"middle"},"encoding":{"x":{"datum":0.05,"type":"quantitative"},"y":{"datum":0.91,"type":"quantitative"}}},
 {"data":{"name":"bigCurves"},"transform":[{"filter":"datum.stressor == 'G' || datum.stressor == 'H'"}],"mark":{"type":"line","color":"#f4aa7c","strokeWidth":4.5,"strokeDash":[11,6],"interpolate":"monotone"},"encoding":{"x":{"field":"x","type":"quantitative"},"y":{"field":"y","type":"quantitative"},"detail":{"field":"stressor","type":"nominal"}}},
 {"data":{"name":"markers"},"transform":[{"filter":"datum.scope == 'big' && (datum.stressor == 'G' || datum.stressor == 'H')"}],"encoding":{"x":{"field":"x","type":"quantitative"},"y":{"field":"y","type":"quantitative"}},"layer":[
  {"mark":{"type":"point","shape":"circle","filled":true,"size":1156,"color":"#f4aa7c","opacity":1}},
  {"mark":{"type":"text","color":"white","fontSize":19,"align":"center","baseline":"middle"},"encoding":{"text":{"field":"stressor","type":"nominal"}}}]}
]},
{"layer":[
 {"data":{"values":[{}]},"mark":{"type":"rect","fill":{"gradient":"linear","x1":0,"y1":0,"x2":1,"y2":0,"stops":[{"offset":0,"color":"#8fbbe6"},{"offset":0.46,"color":"#ffffff"},{"offset":0.52,"color":"#ffffff"},{"offset":1,"color":"#f3a679"}]}},"encoding":{"x":{"datum":0,"type":"quantitative","scale":{"domain":[-0.726161,1.718826],"nice":false,"zero":false},"axis":null},"x2":{"datum":1},"y":{"datum":0,"type":"quantitative","scale":{"domain":[-0.682927,28.365854],"nice":false,"zero":false},"axis":null},"y2":{"datum":1}}},
 {"data":{"values":[{}]},"mark":{"type":"text","text":"SIMILAR","fontSize":20.5,"color":"#111111","align":"right","baseline":"middle"},"encoding":{"x":{"datum":-0.034,"type":"quantitative"},"y":{"datum":0.5,"type":"quantitative"}}},
 {"data":{"values":[{}]},"mark":{"type":"text","text":"DISSIMILAR","fontSize":20.5,"color":"#111111","align":"left","baseline":"middle"},"encoding":{"x":{"datum":1.051,"type":"quantitative"},"y":{"datum":0.5,"type":"quantitative"}}}
]}
]
}
